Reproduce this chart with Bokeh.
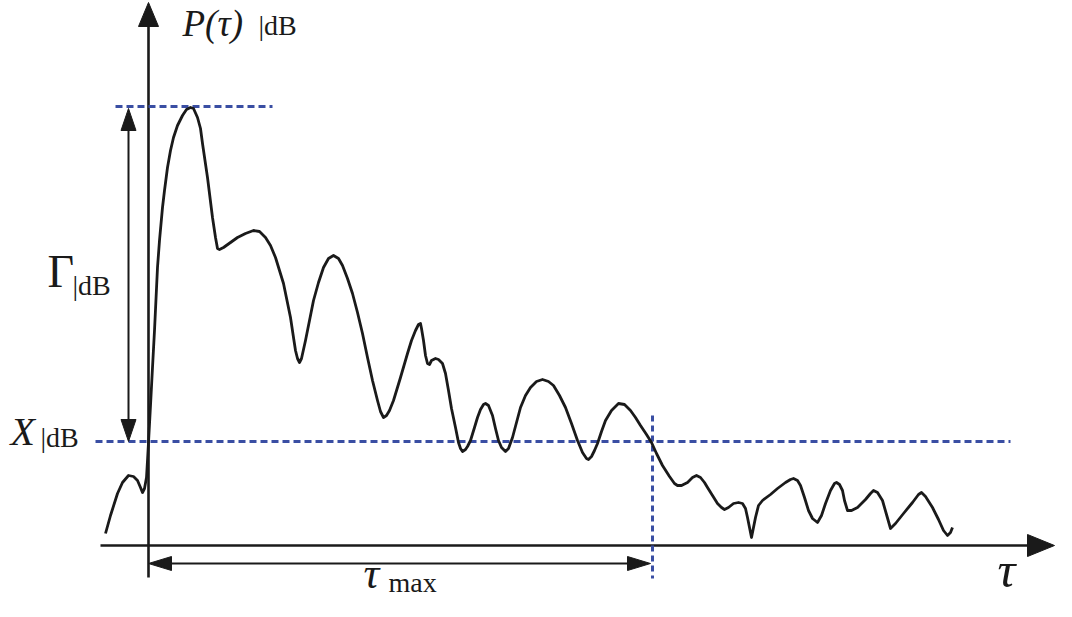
from bokeh.plotting import figure
from bokeh.models import Range1d
from bokeh.core.properties import value
from bokeh.embed import file_html
from bokeh.resources import INLINE

# ---- data (schematic power-delay profile; tau in arbitrary delay units, P in dB) ----
tau = [-43, -38, -31, -26, -20, -15, -11, -8,
       -6, -4, -2, -1, 0, 2, 4, 6,
       9, 11, 14, 16, 19, 22, 25, 29,
       34, 38, 42, 45, 49, 52, 54, 59,
       64, 67, 69, 71, 75, 82, 89, 97,
       105, 111, 117, 122, 127, 135, 142, 145,
       147, 149, 151, 153, 157, 161, 165, 170,
       175, 180, 185, 190, 194, 199, 204, 209,
       214, 219, 224, 229, 232, 235, 238, 241,
       245, 252, 259, 263, 267, 270, 272, 273,
       275, 277, 279, 281, 283, 287, 290, 294,
       297, 300, 303, 307, 310, 312, 314, 317,
       319, 322, 326, 329, 332, 335, 337, 340,
       344, 347, 350, 353, 357, 360, 364, 368,
       372, 377, 382, 388, 394, 400, 405, 411,
       417, 423, 429, 434, 438, 440, 443, 446,
       449, 453, 457, 463, 470, 476, 482, 487,
       492, 498, 503, 508, 514, 521, 526, 529,
       533, 539, 544, 548, 552, 556, 559, 564,
       569, 573, 576, 580, 585, 590, 594, 597,
       599, 601, 603, 605, 607, 610, 614, 622,
       629, 637, 642, 645, 649, 652, 656, 660,
       664, 669, 673, 677, 682, 686, 688, 691,
       694, 696, 699, 703, 709, 717, 722, 725,
       729, 734, 738, 742, 747, 755, 764, 770,
       773, 777, 784, 790, 795, 799, 802, 804]
power_db = [1.2, 3.0, 5.2, 6.3, 7.0, 6.9, 6.5, 5.8,
            5.3, 5.7, 6.8, 8.5, 10.3, 14.0, 17.8, 21.5,
            27.8, 30.5, 33.8, 35.5, 37.8, 39.5, 40.8, 42.0,
            43.0, 43.6, 43.8, 43.7, 42.8, 41.7, 40.2, 36.8,
            32.8, 30.8, 29.7, 29.6, 29.8, 30.3, 30.8, 31.2,
            31.5, 31.4, 30.8, 30.0, 28.8, 26.2, 22.8, 20.8,
            19.5, 18.7, 18.3, 18.7, 20.5, 22.5, 24.5, 26.3,
            27.8, 28.7, 29.0, 28.7, 28.0, 26.7, 25.2, 23.3,
            21.2, 18.8, 16.5, 14.5, 13.4, 12.8, 13.0, 13.5,
            14.5, 16.8, 19.2, 20.5, 21.5, 22.1, 22.2, 21.7,
            20.5, 19.0, 18.2, 18.1, 18.5, 18.7, 18.6, 18.2,
            17.2, 15.5, 13.7, 11.8, 10.3, 9.7, 9.4, 9.6,
            9.9, 10.5, 11.8, 12.8, 13.6, 14.1, 14.2, 14.0,
            13.0, 11.7, 10.5, 9.8, 9.4, 9.7, 10.8, 12.3,
            13.8, 15.0, 15.8, 16.4, 16.6, 16.4, 16.0, 15.0,
            13.8, 12.2, 10.5, 9.3, 8.7, 8.6, 8.9, 9.5,
            10.2, 11.4, 12.5, 13.5, 14.2, 14.1, 13.5, 12.8,
            12.0, 11.1, 10.3, 9.2, 8.0, 6.9, 6.2, 6.0,
            6.0, 6.3, 6.8, 7.0, 6.8, 6.3, 5.8, 5.0,
            4.2, 3.8, 3.6, 3.8, 4.2, 4.3, 4.2, 3.7,
            2.8, 1.8, 0.8, 1.8, 2.8, 4.0, 4.5, 5.1,
            5.7, 6.3, 6.6, 6.7, 6.5, 6.0, 4.8, 3.5,
            2.7, 2.3, 3.0, 4.2, 5.5, 6.2, 6.3, 6.1,
            5.5, 4.5, 3.5, 3.5, 3.8, 4.6, 5.2, 5.5,
            5.3, 4.5, 3.1, 1.7, 2.2, 3.2, 4.3, 5.1,
            5.3, 4.9, 3.8, 2.6, 1.5, 1.0, 1.3, 1.8]

peak_db = 43.9        # top of Gamma
threshold_db = 10.4   # X|dB
tau_max = 504         # crossing of the threshold

labels_axis = ["P(τ)", "|dB", "τ"]
labels_gamma = ["Γ", "|dB"]
labels_x = ["X", "|dB"]
labels_taumax = ["τ", "max"]

# ---- figure (frame fills the whole canvas) ----
W, H = 1056, 601
x0, x1 = -148, 908
y0, y1 = -5.6, 54.5
sx = W / (x1 - x0)   # px per tau unit
sy = H / (y1 - y0)   # px per dB

p = figure(width=W, height=H, output_backend="svg", toolbar_location=None,
           x_range=Range1d(x0, x1), y_range=Range1d(y0, y1),
           x_axis_location=None, y_axis_location=None, min_border=0)
p.grid.visible = False
p.outline_line_color = None
p.background_fill_color = "white"
p.border_fill_color = "white"

BLACK = "#1a1a1a"
BLUE = "#3a4ea3"
SERIF = value("Liberation Serif")


def head(tip_x, tip_y, dx, dy, length, width):
    """Triangle arrow head (pixel length/width) pointing along (dx, dy)."""
    bx = tip_x - dx * length / sx
    by = tip_y - dy * length / sy
    hx = dy * width / 2 / sx
    hy = dx * width / 2 / sy
    return [tip_x, bx + hx, bx - hx], [tip_y, by - hy, by + hy]


heads_x, heads_y = [], []

# axes
ax_left, ax_right = -48, 906
ay_bottom, ay_top = -3.2, 54.3
p.line([ax_left, ax_right - 20 / sx], [0, 0], line_color=BLACK, line_width=2.6)
p.line([0, 0], [ay_bottom, ay_top - 20 / sy], line_color=BLACK, line_width=2.6)
for hx_, hy_ in [head(ax_right, 0, 1, 0, 27, 22), head(0, ay_top, 0, 1, 24, 20)]:
    heads_x.append(hx_); heads_y.append(hy_)

# reference dashed lines
p.line([-33, 124], [peak_db, peak_db], line_color=BLUE, line_width=3, line_dash="7 4")
p.line([-53, 862], [threshold_db, threshold_db], line_color=BLUE, line_width=3, line_dash="7 4")
p.line([tau_max, tau_max], [13.0, -3.3], line_color=BLUE, line_width=3, line_dash="6 4")

# Gamma double arrow
gx = -20
g_top = peak_db - 0.2
p.line([gx, gx], [threshold_db + 20 / sy, g_top - 20 / sy], line_color=BLACK, line_width=2)
for hx_, hy_ in [head(gx, g_top, 0, 1, 22, 15), head(gx, threshold_db, 0, -1, 22, 15)]:
    heads_x.append(hx_); heads_y.append(hy_)

# tau_max double arrow
ty = -1.8
p.line([20 / sx, tau_max - 2 - 20 / sx], [ty, ty], line_color=BLACK, line_width=2)
for hx_, hy_ in [head(0, ty, -1, 0, 23, 14), head(tau_max - 2, ty, 1, 0, 23, 14)]:
    heads_x.append(hx_); heads_y.append(hy_)

p.patches(heads_x, heads_y, fill_color=BLACK, line_color=BLACK, line_width=1)

# the profile
p.line(tau, power_db, line_color=BLACK, line_width=2.8, line_join="round")


# labels
def label(x, y, txt, size, italic=False):
    p.text(x=[x], y=[y], text=[txt], text_font=SERIF, text_font_size=value(f"{size}px"),
           text_font_style="italic" if italic else "normal", text_color=BLACK,
           text_baseline="alphabetic", text_align="left")


label(34, 52.2, labels_axis[0], 37, italic=True)
label(110, 52.0, labels_axis[1], 28)
label(849, -2.4, labels_axis[2], 50, italic=True)

label(-101, 27.4, labels_gamma[0], 46)
label(-76, 26.0, labels_gamma[1], 28)

label(-138, 11.4, labels_x[0], 40, italic=True)
label(-108, 10.8, labels_x[1], 28)

label(215, -2.8, labels_taumax[0], 44, italic=True)
label(240, -3.7, labels_taumax[1], 28)

open("out.html", "w").write(file_html(p, INLINE))
